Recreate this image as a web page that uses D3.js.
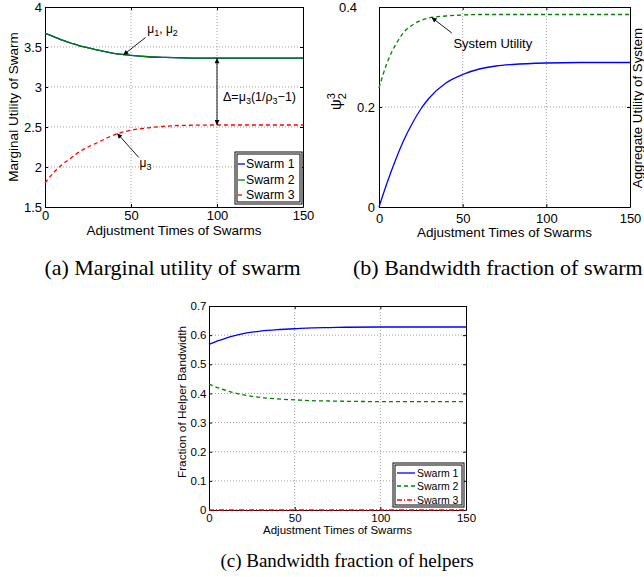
<!DOCTYPE html>
<html>
<head>
<meta charset="utf-8">
<script src="https://cdn.jsdelivr.net/npm/d3@7"></script>
<style>
  body { margin: 0; background: #fff; }
  svg text { font-family: "Liberation Sans", Arial, sans-serif; fill: #000; }
  svg text.cap { font-family: "Liberation Serif", "Times New Roman", serif; }
</style>
</head>
<body>
<svg id="fig" width="644" height="577"></svg>
<script>
const steps = [0, 5, 10, 15, 20, 25, 30, 40, 50, 60, 70, 80, 100, 120, 150];

// (a) marginal utility
const muSwarm1 = [3.67, 3.63, 3.585, 3.55, 3.515, 3.49, 3.465, 3.42, 3.395, 3.378, 3.37, 3.365, 3.36, 3.36, 3.36];
const muSwarm2 = [3.67, 3.63, 3.585, 3.55, 3.515, 3.49, 3.465, 3.42, 3.395, 3.378, 3.37, 3.365, 3.36, 3.36, 3.36];
const muSwarm3 = [1.80, 1.93, 2.03, 2.11, 2.19, 2.25, 2.30, 2.40, 2.46, 2.49, 2.51, 2.52, 2.525, 2.525, 2.525];

// (b) bandwidth fraction psi_2^3 and system utility
const psi23 = [0, 0.05, 0.095, 0.135, 0.168, 0.196, 0.218, 0.248, 0.265, 0.276, 0.282, 0.285, 0.288, 0.289, 0.289];
const sysUtility = [0.238, 0.29, 0.325, 0.35, 0.364, 0.373, 0.378, 0.382, 0.384, 0.385, 0.385, 0.385, 0.385, 0.385, 0.385];

// (c) fraction of helper bandwidth
const fracSwarm1 = [0.568, 0.58, 0.59, 0.598, 0.605, 0.61, 0.614, 0.619, 0.622, 0.625, 0.626, 0.627, 0.628, 0.628, 0.628];
const fracSwarm2 = [0.432, 0.42, 0.41, 0.402, 0.395, 0.39, 0.386, 0.381, 0.378, 0.375, 0.374, 0.373, 0.372, 0.372, 0.372];
const fracSwarm3 = [0, 0, 0, 0, 0, 0, 0, 0, 0, 0, 0, 0, 0, 0, 0];

const xTicks = [0, 50, 100, 150];
const yTicksA = [1.5, 2, 2.5, 3, 3.5, 4];
const yTicksB = [0, 0.2, 0.4];
const yTicksC = [0, 0.1, 0.2, 0.3, 0.4, 0.5, 0.6, 0.7];
const swarmNames = ["Swarm 1", "Swarm 2", "Swarm 3"];

const BLUE = "#0000ff", GREEN = "#008000", RED = "#ff0000";

const svg = d3.select("#fig");
svg.append("defs").append("marker")
    .attr("id", "head")
    .attr("viewBox", "0 0 10 10")
    .attr("refX", 10).attr("refY", 5)
    .attr("markerWidth", 7).attr("markerHeight", 5)
    .attr("markerUnits", "userSpaceOnUse")
    .attr("orient", "auto-start-reverse")
  .append("path").attr("d", "M0,0L10,5L0,10z").attr("fill", "#000");

const fmt = d => String(+d.toFixed(2));

function panel(o) {
    let x = d3.scaleLinear().domain([0, 150]).range([o.l, o.r]);
    let y = d3.scaleLinear().domain(o.yDom).range([o.b, o.t]);
    let g = svg.append("g");

    // matlab style dotted grid
    let grid = g.append("g").attr("stroke", "#888").attr("stroke-width", 0.8).attr("stroke-dasharray", "1,2");
    grid.selectAll(".gx").data(xTicks.slice(1, -1)).enter().append("line")
        .attr("x1", d => x(d)).attr("x2", d => x(d)).attr("y1", o.t).attr("y2", o.b);
    grid.selectAll(".gy").data(o.yTicks.slice(1, -1)).enter().append("line")
        .attr("y1", d => y(d)).attr("y2", d => y(d)).attr("x1", o.l).attr("x2", o.r);

    let style = sel => {
        sel.attr("font-family", null).attr("font-size", o.fs);
        sel.select(".domain").attr("stroke", "#000");
        sel.selectAll(".tick line").attr("stroke", "#000");
    };
    g.append("g").attr("transform", `translate(0,${o.b})`)
        .call(d3.axisBottom(x).tickValues(xTicks).tickFormat(fmt).tickSizeInner(-3).tickSizeOuter(0).tickPadding(o.xPad))
        .call(style);
    g.append("g").attr("transform", `translate(0,${o.t})`)
        .call(d3.axisTop(x).tickValues(xTicks).tickFormat("").tickSizeInner(-3).tickSizeOuter(0))
        .call(style);
    let left = g.append("g").attr("transform", `translate(${o.l},0)`)
        .call(d3.axisLeft(y).tickValues(o.yTicks).tickFormat(fmt).tickSizeInner(-3).tickSizeOuter(0).tickPadding(o.yPad))
        .call(style);
    g.append("g").attr("transform", `translate(${o.r},0)`)
        .call(d3.axisRight(y).tickValues(o.yTicks).tickFormat("").tickSizeInner(-3).tickSizeOuter(0))
        .call(style);

    // x label
    g.append("text").attr("x", (o.l + o.r) / 2).attr("y", o.xLabY)
        .attr("text-anchor", "middle").attr("font-size", o.labFs)
        .text("Adjustment Times of Swarms");

    return {x, y, g, left};
}

function drawLine(p, vals, color, dash, width) {
    let line = d3.line().x((d, i) => p.x(steps[i])).y(d => p.y(d)).curve(d3.curveMonotoneX);
    p.g.append("path").datum(vals)
        .attr("d", line)
        .attr("fill", "none")
        .attr("stroke", color)
        .attr("stroke-width", width || 1.3)
        .attr("stroke-dasharray", dash || null);
}

function legend(p, box, rows, fs, styles) {
    let lg = p.g.append("g");
    lg.append("rect").attr("x", box[0]).attr("y", box[1]).attr("width", box[2]).attr("height", box[3])
        .attr("fill", "#fff").attr("stroke", "#000").attr("stroke-width", 1);
    lg.append("rect").attr("x", box[0] + 2).attr("y", box[1] + 2).attr("width", box[2] - 4).attr("height", box[3] - 4)
        .attr("fill", "none").attr("stroke", "#000").attr("stroke-width", 1);
    swarmNames.forEach((name, i) => {
        lg.append("line").attr("x1", rows.x1).attr("x2", rows.x2).attr("y1", rows.y[i]).attr("y2", rows.y[i])
            .attr("stroke", styles[i].c).attr("stroke-width", 1.3).attr("stroke-dasharray", styles[i].d || null);
        lg.append("text").attr("x", rows.tx).attr("y", rows.y[i]).attr("dy", "0.36em")
            .attr("font-size", fs).text(name);
    });
}

function arrow(g, x1, y1, x2, y2, both) {
    g.append("line").attr("x1", x1).attr("y1", y1).attr("x2", x2).attr("y2", y2)
        .attr("stroke", "#000").attr("stroke-width", 0.9)
        .attr("marker-end", "url(#head)")
        .attr("marker-start", both ? "url(#head)" : null);
}

// ---------- (a) ----------
let pa = panel({l: 45, r: 303, t: 7, b: 207, yDom: [1.5, 4], yTicks: yTicksA,
    fs: 13, labFs: 13.5, xPad: 4, yPad: 3, xLabY: 235});
drawLine(pa, muSwarm1, BLUE);
drawLine(pa, muSwarm2, GREEN);
drawLine(pa, muSwarm3, RED, "4,3");
pa.g.append("text").attr("transform", "translate(18,107) rotate(-90)")
    .attr("text-anchor", "middle").attr("font-size", 13.5).text("Marginal Utility of Swarm");

let t1 = pa.g.append("text").attr("x", pa.x(59.5)).attr("y", pa.y(3.68)).attr("font-size", 12);
t1.append("tspan").text("\u03bc");
t1.append("tspan").attr("dy", 3).attr("font-size", 9).text("1");
t1.append("tspan").attr("dy", -3).text(", \u03bc");
t1.append("tspan").attr("dy", 3).attr("font-size", 9).text("2");
arrow(pa.g, pa.x(58.5), pa.y(3.62), pa.x(45.5), pa.y(3.40));

arrow(pa.g, pa.x(100), pa.y(3.36), pa.x(100), pa.y(2.525), true);
let t2 = pa.g.append("text").attr("x", pa.x(103.5)).attr("y", pa.y(2.82)).attr("font-size", 12.5);
t2.append("tspan").text("\u0394=\u03bc");
t2.append("tspan").attr("dy", 3).attr("font-size", 9).text("3");
t2.append("tspan").attr("dy", -3).text("(1/\u03c1");
t2.append("tspan").attr("dy", 3).attr("font-size", 9).text("3");
t2.append("tspan").attr("dy", -3).text("\u22121)");

let t3 = pa.g.append("text").attr("x", pa.x(55)).attr("y", pa.y(2.0)).attr("font-size", 12);
t3.append("tspan").text("\u03bc");
t3.append("tspan").attr("dy", 3).attr("font-size", 9).text("3");
arrow(pa.g, pa.x(54.5), pa.y(2.12), pa.x(42), pa.y(2.42));

legend(pa, [235, 152, 67, 52], {x1: 238, x2: 245, tx: 246, y: [164, 180, 195]}, 12.3,
    [{c: BLUE}, {c: GREEN}, {c: RED, d: "4,3"}]);

// ---------- (b) ----------
let pb = panel({l: 379, r: 630, t: 7, b: 207, yDom: [0, 0.4], yTicks: yTicksB,
    fs: 13, labFs: 13.5, xPad: 7, yPad: 4, xLabY: 237});
pb.left.selectAll(".tick").filter(d => d === 0.4).select("text").attr("dx", -18);
drawLine(pb, sysUtility, GREEN, "4,3");
drawLine(pb, psi23, BLUE);

let ps = pb.g.append("text").attr("transform", "translate(341,110) rotate(-90)").attr("font-size", 15);
ps.append("tspan").text("\u03c8");
ps.append("tspan").attr("dy", -6).attr("font-size", 11).text("3");
ps.append("tspan").attr("dx", -6).attr("dy", 11).attr("font-size", 11).text("2");

pb.g.append("text").attr("transform", "translate(642,108) rotate(-90)")
    .attr("text-anchor", "middle").attr("font-size", 13.3).text("Aggregate Utility of System");

pb.g.append("text").attr("x", pb.x(44.5)).attr("y", pb.y(0.318)).attr("font-size", 13).text("System Utility");
arrow(pb.g, pb.x(43.5), pb.y(0.348), pb.x(31.5), pb.y(0.379));

// ---------- (c) ----------
let pc = panel({l: 209, r: 466, t: 306, b: 510, yDom: [0, 0.7], yTicks: yTicksC,
    fs: 11.5, labFs: 11.5, xPad: 4, yPad: 2.5, xLabY: 534});
drawLine(pc, fracSwarm1, BLUE);
drawLine(pc, fracSwarm2, GREEN, "4,3");
drawLine(pc, fracSwarm3, RED, "5,2,1,2", 1.6);
pc.g.append("text").attr("transform", "translate(186,402) rotate(-90)")
    .attr("text-anchor", "middle").attr("font-size", 11.8).text("Fraction of Helper Bandwidth");

legend(pc, [393, 463, 71, 44], {x1: 397, x2: 415, tx: 417, y: [473, 486, 500]}, 10.5,
    [{c: BLUE}, {c: GREEN, d: "4,3"}, {c: RED, d: "5,2,1,2"}]);

// ---------- captions ----------
const captions = [
    {t: "(a) Marginal utility of swarm", x: 172.5, y: 275, fs: 22, a: "middle"},
    {t: "(b) Bandwidth fraction of swarm", x: 353, y: 275, fs: 22, a: "start"},
    {t: "(c) Bandwidth fraction of helpers", x: 347, y: 567, fs: 19, a: "middle"}
];
svg.selectAll("text.cap").data(captions).enter().append("text")
    .attr("class", "cap")
    .attr("x", d => d.x).attr("y", d => d.y)
    .attr("text-anchor", d => d.a)
    .attr("font-size", d => d.fs)
    .text(d => d.t);
</script>
</body>
</html>
